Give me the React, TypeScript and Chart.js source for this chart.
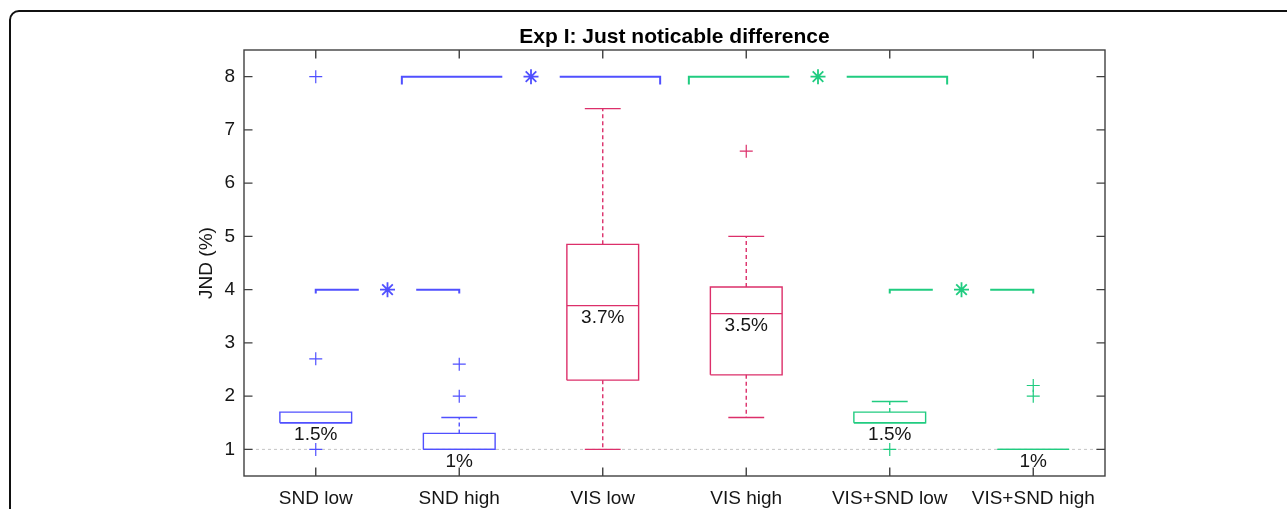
import React, { useEffect, useRef } from 'react';
import { Chart, registerables } from 'chart.js';

Chart.register(...registerables);

// ---------------- data ----------------
const categories = ['SND low', 'SND high', 'VIS low', 'VIS high', 'VIS+SND low', 'VIS+SND high'];
const categoryPositions = [1, 2, 3, 4, 5, 6];
const q1Values = [1.5, 1.0, 2.3, 2.4, 1.5, 1.0];
const medianValues = [1.5, 1.0, 3.7, 3.55, 1.5, 1.0];
const q3Values = [1.7, 1.3, 4.85, 4.05, 1.7, 1.0];
const whiskerLowValues = [1.5, 1.0, 1.0, 1.6, 1.5, 1.0];
const whiskerHighValues = [1.7, 1.6, 7.4, 5.0, 1.9, 1.0];
const outlierValues: number[][] = [[8, 2.7, 1.0], [2.6, 2.0], [], [6.6], [1.0], [2.2, 2.0]];
const medianLabels = ['1.5%', '1%', '3.7%', '3.5%', '1.5%', '1%'];
const categoryGroup = [0, 0, 1, 1, 2, 2];

const yTickValues = [1, 2, 3, 4, 5, 6, 7, 8];
const referenceLevel = 1;

// significance brackets
const bracketStarts = [1.6, 3.6, 1.0, 5.0];
const bracketEnds = [3.4, 5.4, 2.0, 6.0];
const bracketLevels = [8, 8, 4, 4];
const bracketGroup = [0, 2, 0, 2];
const bracketDrop = [0.15, 0.15, 0.075, 0.075];

// ---------------- style ----------------
const palette = ['#5050ff', '#dc2f6a', '#20cc80'];
const FONT = "'Liberation Sans', Arial, Helvetica, sans-serif";
const AXIS = '#404040';
const TEXT = '#151515';
const BOX_HALF = 0.25;
const CAP_HALF = 0.125;
const STAR_GAP = 0.2;

function lineSet(points: { x: number; y: number }[], color: string, width: number, dash: number[] = [], order = 0) {
  return {
    type: 'scatter' as const,
    data: points,
    showLine: true,
    borderColor: color,
    backgroundColor: color,
    borderWidth: width,
    borderDash: dash,
    pointRadius: 0,
    pointHoverRadius: 0,
    fill: false,
    tension: 0,
    order,
    borderJoinStyle: 'miter' as const,
  };
}

function buildDatasets() {
  const ds: any[] = [];
  // reference dashed line
  ds.push(lineSet([{ x: 0.5, y: referenceLevel }, { x: 6.5, y: referenceLevel }], '#c4c4c4', 1, [3, 3], 100));

  categoryPositions.forEach((x, i) => {
    const c = palette[categoryGroup[i]];
    const q1 = q1Values[i];
    const q3 = q3Values[i];
    ds.push(lineSet([
      { x: x - BOX_HALF, y: q1 }, { x: x + BOX_HALF, y: q1 }, { x: x + BOX_HALF, y: q3 },
      { x: x - BOX_HALF, y: q3 }, { x: x - BOX_HALF, y: q1 },
    ], c, 1.4));
    ds.push(lineSet([{ x: x - BOX_HALF, y: medianValues[i] }, { x: x + BOX_HALF, y: medianValues[i] }], c, 1.4));
    const hi = whiskerHighValues[i];
    const lo = whiskerLowValues[i];
    if (hi > q3) {
      ds.push(lineSet([{ x, y: q3 }, { x, y: hi }], c, 1.4, [4, 3]));
      ds.push(lineSet([{ x: x - CAP_HALF, y: hi }, { x: x + CAP_HALF, y: hi }], c, 1.4));
    }
    if (lo < q1) {
      ds.push(lineSet([{ x, y: q1 }, { x, y: lo }], c, 1.4, [4, 3]));
      ds.push(lineSet([{ x: x - CAP_HALF, y: lo }, { x: x + CAP_HALF, y: lo }], c, 1.4));
    }
  });

  // outliers per colour group
  palette.forEach((c, g) => {
    const pts: { x: number; y: number }[] = [];
    categoryPositions.forEach((x, i) => {
      if (categoryGroup[i] === g) outlierValues[i].forEach((v) => pts.push({ x, y: v }));
    });
    if (pts.length) {
      ds.push({
        type: 'scatter', data: pts, showLine: false, pointStyle: 'cross', pointRadius: 6.5,
        pointHoverRadius: 6.5, borderColor: c, backgroundColor: c, borderWidth: 1.2,
      });
    }
  });

  // brackets + stars
  bracketStarts.forEach((s, k) => {
    const e = bracketEnds[k];
    const lvl = bracketLevels[k];
    const mid = (s + e) / 2;
    const c = palette[bracketGroup[k]];
    const d = bracketDrop[k];
    ds.push(lineSet([{ x: s, y: lvl - d }, { x: s, y: lvl }, { x: mid - STAR_GAP, y: lvl }], c, 2));
    ds.push(lineSet([{ x: mid + STAR_GAP, y: lvl }, { x: e, y: lvl }, { x: e, y: lvl - d }], c, 2));
    ds.push({
      type: 'scatter', data: [{ x: mid, y: lvl }], showLine: false, pointStyle: 'star', pointRadius: 7.5,
      pointHoverRadius: 7.5, borderColor: c, backgroundColor: c, borderWidth: 1.8,
    });
  });
  return ds;
}

const outerFrame = {
  id: 'outerFrame',
  beforeDraw(chart: any) {
    const ctx = chart.ctx;
    ctx.save();
    ctx.fillStyle = '#ffffff';
    ctx.fillRect(0, 0, chart.width, chart.height);
    ctx.strokeStyle = '#111111';
    ctx.lineWidth = 2;
    ctx.beginPath();
    (ctx as any).roundRect(10, 11, chart.width + 20, chart.height + 20, 9);
    ctx.stroke();
    ctx.restore();
  },
};

const axesFrame = {
  id: 'axesFrame',
  afterDatasetsDraw(chart: any) {
    const ctx = chart.ctx;
    const { left, right, top, bottom } = chart.chartArea;
    const xs = chart.scales.x;
    const ys = chart.scales.y;
    ctx.save();
    // median labels
    ctx.fillStyle = TEXT;
    ctx.font = `19px ${FONT}`;
    ctx.textAlign = 'center';
    ctx.textBaseline = 'middle';
    categoryPositions.forEach((x, i) => {
      ctx.fillText(medianLabels[i], xs.getPixelForValue(x), ys.getPixelForValue(medianValues[i]) + 12);
    });
    // frame
    ctx.strokeStyle = AXIS;
    ctx.lineWidth = 1.4;
    ctx.strokeRect(left, top, right - left, bottom - top);
    const tl = 8.5;
    ctx.beginPath();
    yTickValues.forEach((v) => {
      const py = ys.getPixelForValue(v);
      ctx.moveTo(left, py); ctx.lineTo(left + tl, py);
      ctx.moveTo(right, py); ctx.lineTo(right - tl, py);
    });
    categoryPositions.forEach((v) => {
      const px = xs.getPixelForValue(v);
      ctx.moveTo(px, bottom); ctx.lineTo(px, bottom - tl);
      ctx.moveTo(px, top); ctx.lineTo(px, top + tl);
    });
    ctx.stroke();
    ctx.restore();
  },
};

export default function App() {
  const ref = useRef<HTMLCanvasElement | null>(null);
  useEffect(() => {
    if (!ref.current) return;
    const chart = new Chart(ref.current, {
      type: 'scatter',
      data: { datasets: buildDatasets() },
      options: {
        responsive: false,
        animation: false,
        events: [],
        layout: { padding: { left: 0, right: 182, top: 0, bottom: 0 } },
        plugins: {
          legend: { display: false },
          tooltip: { enabled: false },
          title: {
            display: true,
            text: 'Exp I: Just noticable difference',
            color: '#000000',
            font: { family: FONT, size: 21, weight: 'bold' },
            padding: { top: 24.4, bottom: 0.4 },
            fullSize: false,
          },
        },
        scales: {
          x: {
            type: 'linear',
            min: 0.5,
            max: 6.5,
            grid: { display: false, drawTicks: false },
            border: { display: false },
            afterBuildTicks: (s: any) => { s.ticks = categoryPositions.map((v) => ({ value: v })); },
            afterFit: (s: any) => { s.height = 33; },
            ticks: {
              padding: 11,
              maxRotation: 0,
              autoSkip: false,
              color: TEXT,
              font: { family: FONT, size: 19 },
              callback: (v: any) => categories[categoryPositions.indexOf(Number(v))] ?? '',
            },
          },
          y: {
            type: 'linear',
            min: 0.5,
            max: 8.5,
            grid: { display: false, drawTicks: false },
            border: { display: false },
            afterBuildTicks: (s: any) => { s.ticks = yTickValues.map((v) => ({ value: v })); },
            afterFit: (s: any) => { s.width = 244; },
            ticks: {
              padding: 9,
              color: TEXT,
              font: { family: FONT, size: 19 },
              callback: (v: any) => String(v),
            },
            title: {
              display: true,
              text: 'JND (%)',
              color: TEXT,
              font: { family: FONT, size: 19 },
              padding: { top: 195.6, bottom: 0 },
            },
          },
        },
      },
      plugins: [outerFrame, axesFrame],
    } as any);
    return () => chart.destroy();
  }, []);
  return (
    <div style={{ position: 'fixed', left: 0, top: 0, width: 1287, height: 509, background: '#fff' }}>
      <canvas ref={ref} width={1287} height={509} style={{ display: 'block' }} />
    </div>
  );
}
